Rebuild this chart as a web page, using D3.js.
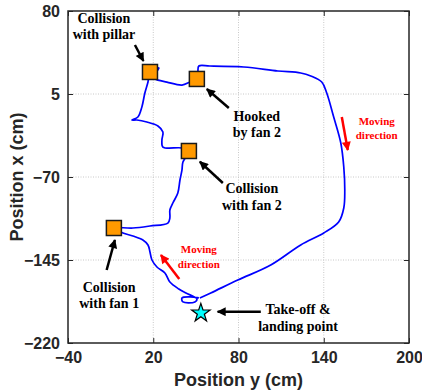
<!DOCTYPE html>
<html>
<head>
<meta charset="utf-8">
<script src="https://cdn.jsdelivr.net/npm/d3@7"></script>
<style>
body { margin: 0; background: #fff; }
svg text { font-family: "Liberation Sans", Arial, sans-serif; }
.note { font-family: "Liberation Serif", "Times New Roman", serif; font-weight: bold; }
</style>
</head>
<body>
<div id="chart"></div>
<script>
// axis ticks
var xTicks = [-40, 20, 80, 140, 200];
var yTicks = [-220, -145, -70, 5, 80];

// trajectory, [position y, position x] in cm, starting at take-off
var trajY = [52.1, 45.8, 40.2, 40.9, 49.3, 50.7, 43.0, 38.0, 31.7, 28.2, 22.6, 19.1, 17.7, 16.3, 12.7, 5.7, -1.3, -7.7,
  5.7, 17.7, 30.3, 31.7, 31.7, 33.8, 37.3, 38.8, 40.2, 40.9, 45.1,
  40.2, 26.8, 26.1, 26.8, 23.3, 15.5, 8.5, 5.0, 9.2, 12.0, 14.1, 16.3, 17.7, 24.0, 19.8,
  21.2, 29.6, 40.2, 45.8, 50.7, 51.4, 52.1, 59.8, 83.8, 107.7, 123.8, 130.9, 138.6, 142.1,
  147.0, 152.0, 154.1, 154.8, 154.1, 150.5, 140.0, 123.8, 102.7, 79.5, 60.5, 52.8];
var trajX = [-179.3, -178.4, -179.3, -182.9, -182.9, -180.2, -174.8, -171.2, -164.9, -156.7, -151.3, -145.0, -137.8, -131.4, -126.9, -123.3, -120.6, -116.1,
  -116.1, -114.3, -111.6, -107.0, -99.8, -93.5, -84.5, -72.7, -63.7, -56.4, -46.5,
  -43.8, -42.9, -36.6, -29.3, -23.9, -20.3, -18.5, -18.5, -15.8, -6.7, 5.9, 15.8, 24.9, 28.5, 20.4,
  18.6, 15.8, 13.1, 15.8, 18.6, 24.9, 30.3, 30.3, 29.4, 25.8, 24.0, 21.3, 15.8, 5.9,
  -15.8, -39.3, -61.0, -81.7, -98.0, -110.7, -120.6, -131.4, -149.5, -163.1, -174.8, -179.3];

// collision events (squares)
var eventY = [17.7, 50.7, 45.1, -7.7];
var eventX = [24.9, 18.6, -46.5, -116.1];

// take-off / landing point
var startY = 53.5, startX = -192.9;

// annotation texts and arrows
var noteLines = [["Collision", "with pillar"], ["Hooked", "by fan 2"], ["Collision", "with fan 2"], ["Collision", "with fan 1"], ["Take-off &", "landing point"]];
var noteY = [-14.7, 92.9, 89.4, -11.0, 121.9];
var noteX = [69.2, -19.1, -84.5, -173.6, -193.8];
var arrowFrom = [[7.1, 49.3], [73.2, -7.6], [69.0, -75.4], [-12.8, -154.0], [95.7, -191.7]];
var arrowTo = [[13.1, 34.8], [57.7, 9.5], [52.8, -56.2], [-7.0, -126.9], [65.3, -191.7]];

var dirY = [177.3, 52.1];
var dirX = [-23.0, -138.9];
var dirFrom = [[152.7, -15.8], [38.3, -162.2]];
var dirTo = [[156.9, -45.6], [25.4, -140.5]];

var width = 422, height = 391;
var margin = {top: 11, right: 13, bottom: 48, left: 68};

var svg = d3.select("#chart").append("svg")
  .attr("width", width)
  .attr("height", height);

var x = d3.scaleLinear().domain([-40, 200]).range([margin.left, width - margin.right]);
var y = d3.scaleLinear().domain([-220, 80]).range([height - margin.bottom, margin.top]);

var defs = svg.append("defs");
function addHead(id, color) {
  defs.append("marker")
    .attr("id", id)
    .attr("viewBox", "0 0 10 10")
    .attr("refX", 9).attr("refY", 5)
    .attr("markerWidth", 4).attr("markerHeight", 3.6)
    .attr("orient", "auto")
    .attr("markerUnits", "strokeWidth")
    .append("path")
    .attr("d", "M0,0 L10,5 L0,10 z")
    .attr("fill", color);
}
addHead("headBlack", "#000");
addHead("headRed", "#ff0000");

// grid
var grid = svg.append("g").attr("stroke", "#c8c8c8").attr("stroke-width", 1).attr("stroke-dasharray", "1,1.5");
grid.selectAll(".gx").data(xTicks.slice(1, -1)).enter().append("line")
  .attr("x1", function(d) { return x(d); }).attr("x2", function(d) { return x(d); })
  .attr("y1", y(-220)).attr("y2", y(80));
grid.selectAll(".gy").data(yTicks.slice(1, -1)).enter().append("line")
  .attr("x1", x(-40)).attr("x2", x(200))
  .attr("y1", function(d) { return y(d); }).attr("y2", function(d) { return y(d); });

// axes, ticks inside like the original
var bottomAxis = d3.axisBottom(x).tickValues(xTicks).tickSize(-5).tickPadding(9);
var leftAxis = d3.axisLeft(y).tickValues(yTicks).tickSize(-5).tickPadding(8);
var topAxis = d3.axisTop(x).tickValues(xTicks).tickSize(-5).tickFormat("");
var rightAxis = d3.axisRight(y).tickValues(yTicks).tickSize(-5).tickFormat("");

function styleAxis(g) {
  g.select(".domain").remove();
  g.selectAll("line").attr("stroke", "#262626").attr("stroke-width", 1);
  g.selectAll("text").attr("fill", "#262626").attr("font-size", "16px").attr("font-weight", "bold")
    .attr("font-family", "'Liberation Sans', Arial, sans-serif");
}
svg.append("g").attr("transform", "translate(0," + y(-220) + ")").call(bottomAxis).call(styleAxis);
svg.append("g").attr("transform", "translate(" + x(-40) + ",0)").call(leftAxis).call(styleAxis);
svg.append("g").attr("transform", "translate(0," + y(80) + ")").call(topAxis).call(styleAxis);
svg.append("g").attr("transform", "translate(" + x(200) + ",0)").call(rightAxis).call(styleAxis);

svg.append("rect")
  .attr("x", x(-40)).attr("y", y(80))
  .attr("width", x(200) - x(-40)).attr("height", y(-220) - y(80))
  .attr("fill", "none").attr("stroke", "#262626").attr("stroke-width", 1.5);

// axis titles
svg.append("text")
  .attr("x", (x(-40) + x(200)) / 2).attr("y", 386)
  .attr("text-anchor", "middle").attr("font-size", "18px").attr("font-weight", "bold").attr("fill", "#262626")
  .text("Position y (cm)");
svg.append("text")
  .attr("transform", "translate(23," + (y(-220) + y(80)) / 2 + ") rotate(-90)")
  .attr("text-anchor", "middle").attr("font-size", "18px").attr("font-weight", "bold").attr("fill", "#262626")
  .text("Position x (cm)");

// trajectory
var traj = trajY.map(function(d, i) { return [d, trajX[i]]; });
var line = d3.line()
  .x(function(d) { return x(d[0]); })
  .y(function(d) { return y(d[1]); })
  .curve(d3.curveCatmullRom.alpha(0.5));
svg.append("path")
  .datum(traj)
  .attr("d", line)
  .attr("fill", "none")
  .attr("stroke", "#0000ff")
  .attr("stroke-width", 1.7);

// collision squares
var sq = 15;
svg.selectAll(".event").data(eventY).enter().append("rect")
  .attr("x", function(d) { return x(d) - sq / 2; })
  .attr("y", function(d, i) { return y(eventX[i]) - sq / 2; })
  .attr("width", sq).attr("height", sq)
  .attr("fill", "#ff9900").attr("stroke", "#1a1a1a").attr("stroke-width", 1.5);

// take-off star
svg.append("path")
  .attr("d", d3.symbol().type(d3.symbolStar).size(105)())
  .attr("transform", "translate(" + x(startY) + "," + y(startX) + ")")
  .attr("fill", "#00ffff").attr("stroke", "#000").attr("stroke-width", 1.2);

// black arrows
svg.selectAll(".arr").data(arrowFrom).enter().append("line")
  .attr("x1", function(d) { return x(d[0]); }).attr("y1", function(d) { return y(d[1]); })
  .attr("x2", function(d, i) { return x(arrowTo[i][0]); }).attr("y2", function(d, i) { return y(arrowTo[i][1]); })
  .attr("stroke", "#000").attr("stroke-width", 2.5)
  .attr("marker-end", "url(#headBlack)");

// red direction arrows
svg.selectAll(".dir").data(dirFrom).enter().append("line")
  .attr("x1", function(d) { return x(d[0]); }).attr("y1", function(d) { return y(d[1]); })
  .attr("x2", function(d, i) { return x(dirTo[i][0]); }).attr("y2", function(d, i) { return y(dirTo[i][1]); })
  .attr("stroke", "#ff0000").attr("stroke-width", 2.5)
  .attr("marker-end", "url(#headRed)");

// notes
noteLines.forEach(function(lines, i) {
  var t = svg.append("text").attr("class", "note")
    .attr("text-anchor", "middle").attr("font-size", "14px").attr("fill", "#000");
  lines.forEach(function(s, j) {
    t.append("tspan").attr("x", x(noteY[i])).attr("y", y(noteX[i]) + j * 16.5).text(s);
  });
});
dirY.forEach(function(d, i) {
  var t = svg.append("text").attr("class", "note")
    .attr("text-anchor", "middle").attr("font-size", "11px").attr("fill", "#ff0000");
  ["Moving", "direction"].forEach(function(s, j) {
    t.append("tspan").attr("x", x(d)).attr("y", y(dirX[i]) + j * 14.5).text(s);
  });
});
</script>
</body>
</html>
